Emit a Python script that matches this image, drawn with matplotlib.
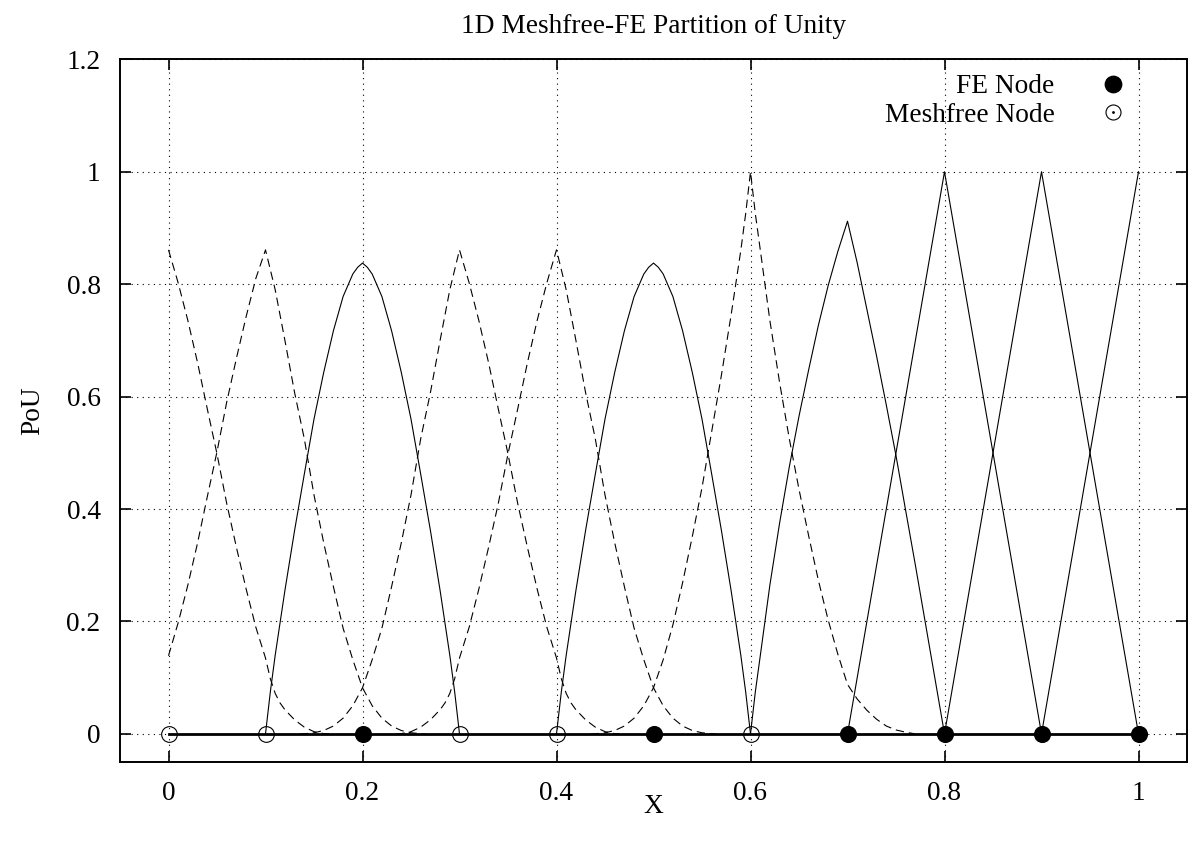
import matplotlib
matplotlib.use('Agg')
import matplotlib.pyplot as plt
from matplotlib.lines import Line2D
from matplotlib.ticker import FuncFormatter

plt.rcParams['font.family'] = ['Liberation Serif', 'DejaVu Serif']

# nodes
fe_nodes = [0.2, 0.5, 0.7, 0.8, 0.9, 1.0]
mf_nodes = [0.0, 0.1, 0.3, 0.4, 0.6]
all_nodes = [0.0, 0.1, 0.2, 0.3, 0.4, 0.5, 0.6, 0.7, 0.8, 0.9, 1.0]

# meshfree shape functions (dashed)
m0_x = [0.00, 0.01, 0.02, 0.03, 0.04, 0.05, 0.06, 0.07, 0.08, 0.09, 0.10, 0.105,
        0.11, 0.115, 0.12, 0.13, 0.14, 0.15, 0.16, 0.165]
m0_y = [0.861, 0.802, 0.735, 0.66, 0.578, 0.498, 0.41, 0.332, 0.258, 0.19, 0.135, 0.098,
        0.072, 0.055, 0.043, 0.025, 0.012, 0.004, 0.0005, 0.0]

m1_x = [0.00, 0.01, 0.02, 0.03, 0.04, 0.05, 0.06, 0.07, 0.08, 0.09, 0.10, 0.11, 0.12,
        0.13, 0.14, 0.15, 0.16, 0.17, 0.18, 0.19, 0.20, 0.21, 0.22, 0.23, 0.24, 0.25,
        0.26, 0.265]
m1_y = [0.139, 0.198, 0.265, 0.34, 0.422, 0.502, 0.59, 0.668, 0.742, 0.81, 0.861, 0.79,
        0.70, 0.607, 0.525, 0.425, 0.34, 0.262, 0.188, 0.132, 0.082, 0.05, 0.028, 0.014,
        0.006, 0.002, 0.0003, 0.0]

m3_x = [0.135, 0.14, 0.15, 0.16, 0.17, 0.18, 0.19, 0.20, 0.21, 0.22, 0.23, 0.24, 0.25,
        0.26, 0.27, 0.28, 0.29, 0.30, 0.31, 0.32, 0.33, 0.34, 0.35, 0.36, 0.37, 0.38,
        0.39, 0.40, 0.405, 0.41, 0.415, 0.42, 0.43, 0.44, 0.45, 0.46, 0.465]
m3_y = [0.0, 0.0003, 0.002, 0.006, 0.014, 0.028, 0.05, 0.082, 0.132, 0.188, 0.262, 0.34,
        0.425, 0.525, 0.607, 0.70, 0.79, 0.861, 0.802, 0.735, 0.66, 0.578, 0.498, 0.41,
        0.332, 0.258, 0.19, 0.135, 0.098, 0.072, 0.055, 0.043, 0.025, 0.012, 0.004,
        0.0005, 0.0]

m4_x = [0.235, 0.24, 0.25, 0.26, 0.27, 0.28, 0.285, 0.29, 0.295, 0.30, 0.31, 0.32, 0.33,
        0.34, 0.35, 0.36, 0.37, 0.38, 0.39, 0.40, 0.41, 0.42, 0.43, 0.44, 0.45, 0.46,
        0.47, 0.48, 0.49, 0.50, 0.51, 0.52, 0.53, 0.54, 0.55, 0.56, 0.565]
m4_y = [0.0, 0.0005, 0.004, 0.012, 0.025, 0.043, 0.055, 0.072, 0.098, 0.135, 0.19, 0.258,
        0.332, 0.41, 0.498, 0.578, 0.66, 0.735, 0.802, 0.861, 0.79, 0.70, 0.607, 0.525,
        0.425, 0.34, 0.262, 0.188, 0.132, 0.082, 0.05, 0.028, 0.014, 0.006, 0.002,
        0.0003, 0.0]

m6_x = [0.435, 0.44, 0.45, 0.46, 0.47, 0.48, 0.49, 0.50, 0.51, 0.52, 0.53, 0.54, 0.55,
        0.56, 0.57, 0.58, 0.59, 0.595, 0.60, 0.605, 0.61, 0.62, 0.63, 0.64, 0.65, 0.66,
        0.67, 0.68, 0.69, 0.70, 0.71, 0.72, 0.73, 0.74, 0.75, 0.76, 0.77]
m6_y = [0.0, 0.0003, 0.002, 0.006, 0.014, 0.028, 0.05, 0.082, 0.132, 0.194, 0.269, 0.351,
        0.438, 0.538, 0.638, 0.745, 0.86, 0.925, 1.0, 0.925, 0.862, 0.735, 0.625, 0.525,
        0.435, 0.352, 0.273, 0.203, 0.142, 0.088, 0.062, 0.042, 0.026, 0.014, 0.007,
        0.003, 0.0]

# FE shape functions (solid)
f2_x = [0.10, 0.105, 0.11, 0.12, 0.13, 0.14, 0.15, 0.16, 0.17, 0.18, 0.19, 0.195, 0.20,
        0.205, 0.21, 0.22, 0.23, 0.24, 0.25, 0.26, 0.27, 0.28, 0.29, 0.295, 0.30]
f2_y = [0.0, 0.075, 0.14, 0.255, 0.362, 0.462, 0.56, 0.643, 0.717, 0.778, 0.818, 0.83,
        0.8375, 0.83, 0.818, 0.778, 0.717, 0.643, 0.56, 0.462, 0.362, 0.255, 0.14, 0.075, 0.0]

f5_x = [0.40, 0.405, 0.41, 0.42, 0.43, 0.44, 0.45, 0.46, 0.47, 0.48, 0.49, 0.495, 0.50,
        0.505, 0.51, 0.52, 0.53, 0.54, 0.55, 0.56, 0.57, 0.58, 0.59, 0.595, 0.60]
f5_y = [0.0, 0.075, 0.14, 0.255, 0.362, 0.462, 0.56, 0.643, 0.717, 0.778, 0.818, 0.83,
        0.8375, 0.83, 0.818, 0.778, 0.717, 0.643, 0.56, 0.462, 0.362, 0.255, 0.14, 0.075, 0.0]

f7_x = [0.60, 0.605, 0.61, 0.62, 0.63, 0.64, 0.65, 0.66, 0.67, 0.68, 0.69, 0.70, 0.71,
        0.72, 0.73, 0.74, 0.75, 0.76, 0.77, 0.78, 0.79, 0.80]
f7_y = [0.0, 0.075, 0.138, 0.265, 0.375, 0.475, 0.565, 0.648, 0.727, 0.797, 0.858, 0.912,
        0.838, 0.755, 0.672, 0.585, 0.495, 0.397, 0.30, 0.20, 0.10, 0.0]

f8_x = [0.7, 0.8, 0.9]
f8_y = [0.0, 1.0, 0.0]
f9_x = [0.8, 0.9, 1.0]
f9_y = [0.0, 1.0, 0.0]
f10_x = [0.9, 1.0]
f10_y = [0.0, 1.0]

meshfree = [(m0_x, m0_y), (m1_x, m1_y), (m3_x, m3_y), (m4_x, m4_y), (m6_x, m6_y)]
fe = [(f2_x, f2_y), (f5_x, f5_y), (f7_x, f7_y), (f8_x, f8_y), (f9_x, f9_y), (f10_x, f10_y)]

W, H = 1189, 847
FS = 19.7
fig = plt.figure(figsize=(W / 100, H / 100), dpi=100)
ax = fig.add_axes([120 / W, 1 - 762 / H, 1067 / W, (762 - 59.3) / H])

for xs, ys in meshfree:
    ax.plot(xs, ys, color='black', lw=0.8, linestyle=(0, (7.5, 4.5)))
for xs, ys in fe:
    ax.plot(xs, ys, color='black', lw=0.8)

ax.plot(all_nodes, [0] * len(all_nodes), color='black', lw=2.0, zorder=3)
ax.plot(fe_nodes, [0] * len(fe_nodes), 'o', color='black', ms=11.3, zorder=4)
ax.plot(mf_nodes, [0] * len(mf_nodes), 'o', mfc='none', mec='black', mew=0.8, ms=11.3,
        zorder=4)

ax.set_xlim(-0.05, 1.05)
ax.set_ylim(-0.05, 1.2)
ax.set_xticks([0, 0.2, 0.4, 0.6, 0.8, 1.0])
ax.set_yticks([0, 0.2, 0.4, 0.6, 0.8, 1.0, 1.2])
fmt = FuncFormatter(lambda v, p: '%g' % v)
ax.xaxis.set_major_formatter(fmt)
ax.yaxis.set_major_formatter(fmt)
ax.tick_params(direction='in', length=8, width=1.2, top=True, right=True,
               labelsize=FS, pad=14)
ax.grid(True, color='black', lw=0.8, linestyle=(0, (1, 4)))
for s in ax.spines.values():
    s.set_linewidth(1.4)

ax.set_title('1D Meshfree-FE Partition of Unity', fontsize=FS, pad=19)
ax.set_xlabel('X', fontsize=FS, labelpad=-9)
ax.set_ylabel('PoU', fontsize=FS, labelpad=15)

h_fe = Line2D([], [], ls='none', marker='o', color='black', ms=11.8)
h_ring = Line2D([], [], ls='none', marker='o', mfc='none', mec='black', mew=0.8, ms=10.8)
h_dot = Line2D([], [], ls='none', marker='.', color='black', ms=2)
ax.legend([h_fe, (h_ring, h_dot)], ['FE Node', 'Meshfree Node'], loc='upper right',
          bbox_to_anchor=(0.9438, 0.979), frameon=False, markerfirst=False,
          fontsize=FS, handlelength=1.0, handletextpad=1.65, borderpad=0,
          borderaxespad=0, labelspacing=0.12)

fig.savefig('out.png', dpi=100)
